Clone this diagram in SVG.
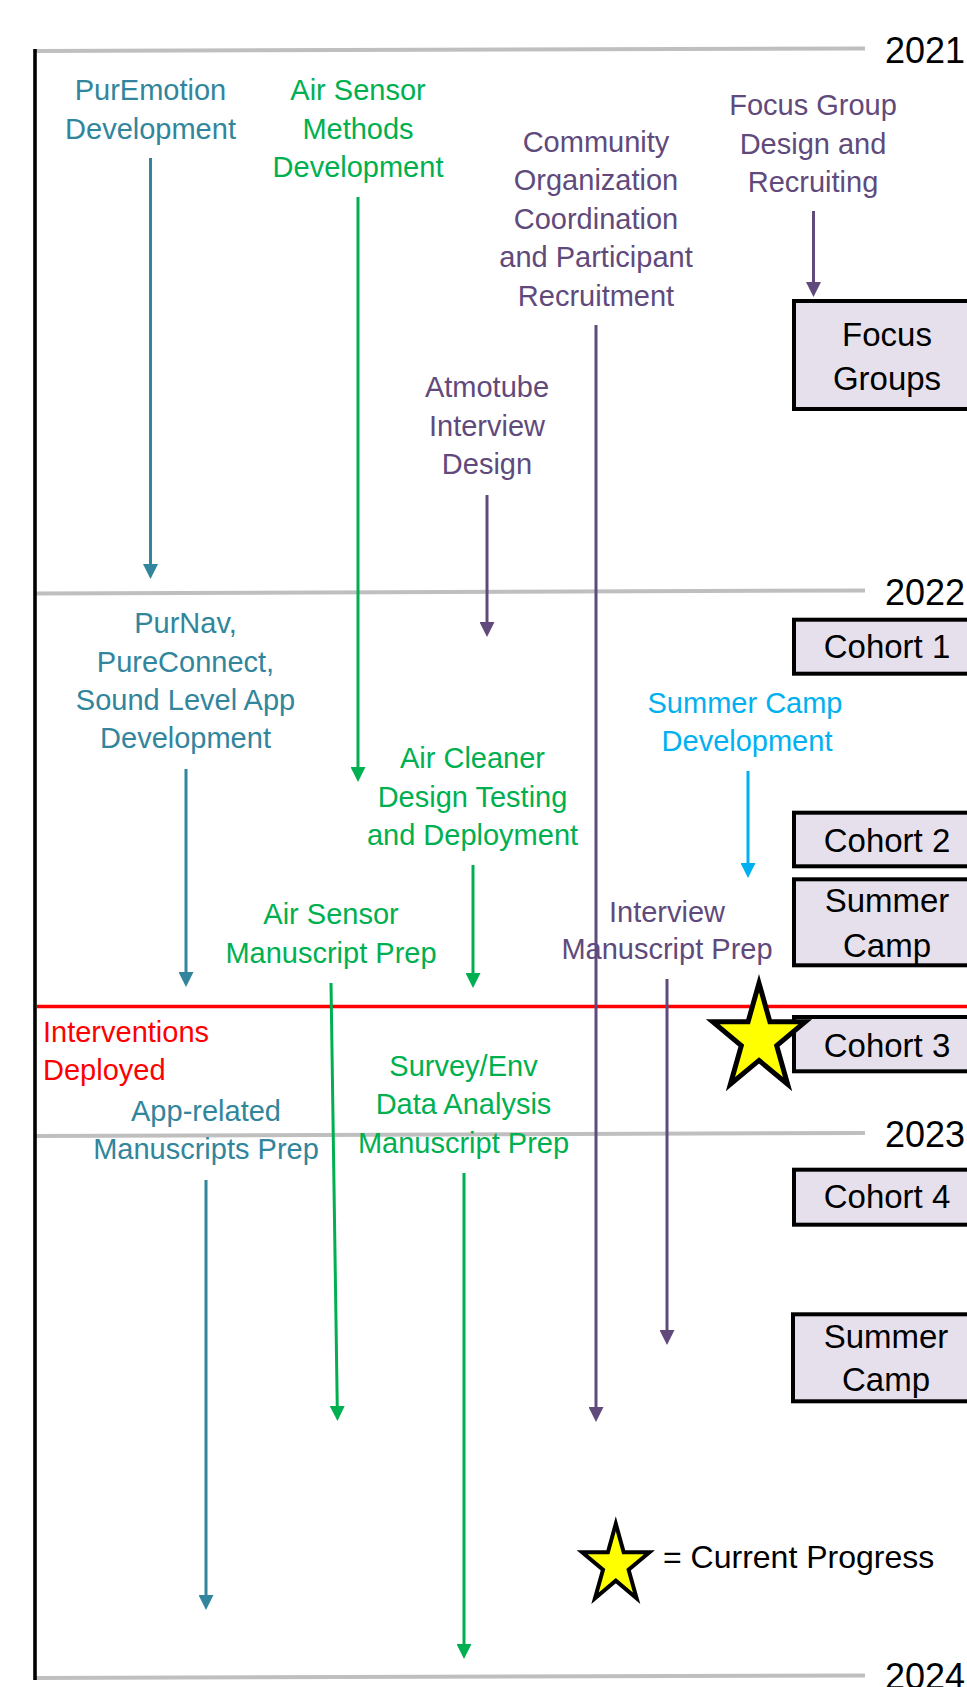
<svg xmlns="http://www.w3.org/2000/svg" width="967" height="1687" viewBox="0 0 967 1687">
<style>
text{font-family:"Liberation Sans",Arial,sans-serif;}
.lbl{font-size:29px;text-anchor:middle;}
.teal{fill:#31859C;}
.green{fill:#00B050;}
.purple{fill:#604A7B;}
.lblue{fill:#00B0F0;}
.red{fill:#FF0000;}
.year{font-size:36px;fill:#000;}
.box rect{fill:#E6E0EC;stroke:#000;stroke-width:4;}
.box text{font-size:33px;fill:#000;text-anchor:middle;}
.grid{stroke:#BFBFBF;stroke-width:4;fill:none;}
.c{fill:none;stroke-width:3;}
.ct{stroke:#31859C;marker-end:url(#ah-teal);}
.cg{stroke:#00B050;marker-end:url(#ah-green);}
.cp{stroke:#604A7B;marker-end:url(#ah-purple);}
.cb{stroke:#00B0F0;marker-end:url(#ah-lblue);}
.star{fill:#FFFF00;stroke:#000;stroke-linejoin:miter;}
</style>
<defs>
<marker id="ah-teal" markerUnits="userSpaceOnUse" viewBox="0 0 15 15" markerWidth="15" markerHeight="15" refX="10" refY="7.5" orient="auto"><path d="M0,0 L15,7.5 L0,15 z" fill="#31859C"/></marker>
<marker id="ah-green" markerUnits="userSpaceOnUse" viewBox="0 0 15 15" markerWidth="15" markerHeight="15" refX="10" refY="7.5" orient="auto"><path d="M0,0 L15,7.5 L0,15 z" fill="#00B050"/></marker>
<marker id="ah-purple" markerUnits="userSpaceOnUse" viewBox="0 0 15 15" markerWidth="15" markerHeight="15" refX="10" refY="7.5" orient="auto"><path d="M0,0 L15,7.5 L0,15 z" fill="#604A7B"/></marker>
<marker id="ah-lblue" markerUnits="userSpaceOnUse" viewBox="0 0 15 15" markerWidth="15" markerHeight="15" refX="10" refY="7.5" orient="auto"><path d="M0,0 L15,7.5 L0,15 z" fill="#00B0F0"/></marker>
</defs>
<rect width="967" height="1687" fill="#fff"/>

<g id="timeline">
<line class="grid" x1="35" y1="51" x2="865" y2="48.5"/>
<line class="grid" x1="35" y1="593.5" x2="865" y2="590.5"/>
<line class="grid" x1="35" y1="1136" x2="865" y2="1133"/>
<line class="grid" x1="35" y1="1678" x2="865" y2="1675.5"/>
<line x1="37" y1="1006.5" x2="967" y2="1006.5" stroke="#FF0000" stroke-width="3.3"/>
<line x1="35" y1="49" x2="35" y2="1680" stroke="#000" stroke-width="3.6"/>
<text class="year" x="885" y="63">2021</text>
<text class="year" x="885" y="605">2022</text>
<text class="year" x="885" y="1147">2023</text>
<text class="year" x="885" y="1689">2024</text>
</g>

<g id="connectors">
<line class="c ct" x1="150.5" y1="158" x2="150.5" y2="574"/>
<line class="c cg" x1="358" y1="197" x2="358" y2="777"/>
<line class="c cp" x1="596" y1="325" x2="596" y2="1417"/>
<line class="c cp" x1="813.5" y1="211" x2="813.5" y2="292"/>
<line class="c cp" x1="487" y1="495" x2="487" y2="632"/>
<line class="c ct" x1="186" y1="769" x2="186" y2="982"/>
<line class="c cg" x1="473" y1="865" x2="473" y2="983"/>
<line class="c cb" x1="748" y1="771" x2="748" y2="873"/>
<line class="c cg" x1="331" y1="983" x2="337.4" y2="1416"/>
<line class="c cp" x1="667" y1="979" x2="667" y2="1340"/>
<line class="c ct" x1="206" y1="1180" x2="206" y2="1605"/>
<line class="c cg" x1="464" y1="1173" x2="464" y2="1654"/>
</g>

<g id="focus-groups" class="box"><rect x="794" y="301" width="190" height="108"/><text x="887" y="345.7">Focus</text><text x="887" y="390">Groups</text></g>
<g id="cohort1" class="box"><rect x="794" y="619.7" width="190" height="54"/><text x="887" y="658.3">Cohort 1</text></g>
<g id="cohort2" class="box"><rect x="794" y="812.7" width="190" height="53.6"/><text x="887" y="851.7">Cohort 2</text></g>
<g id="summer-camp1" class="box"><rect x="794" y="879.3" width="190" height="86"/><text x="887" y="912.3">Summer</text><text x="887" y="956.7">Camp</text></g>
<g id="cohort3" class="box"><rect x="794" y="1017" width="190" height="54.3"/><text x="887" y="1056.7">Cohort 3</text></g>
<g id="cohort4" class="box"><rect x="794" y="1169.7" width="190" height="55"/><text x="887" y="1208.3">Cohort 4</text></g>
<g id="summer-camp2" class="box"><rect x="793" y="1314.3" width="190" height="87"/><text x="886" y="1347.7">Summer</text><text x="886" y="1390.7">Camp</text></g>

<g id="puremotion" class="lbl teal"><text x="150.5" y="100">PurEmotion</text><text x="150.5" y="138.5">Development</text></g>
<g id="air-sensor-methods" class="lbl green"><text x="358" y="100">Air Sensor</text><text x="358" y="138.5">Methods</text><text x="358" y="177">Development</text></g>
<g id="community" class="lbl purple"><text x="596" y="151.5">Community</text><text x="596" y="190">Organization</text><text x="596" y="228.6">Coordination</text><text x="596" y="267.2">and Participant</text><text x="596" y="305.8">Recruitment</text></g>
<g id="focus-group-design" class="lbl purple"><text x="813" y="115">Focus Group</text><text x="813" y="153.5">Design and</text><text x="813" y="192">Recruiting</text></g>
<g id="atmotube" class="lbl purple"><text x="487" y="397.3">Atmotube</text><text x="487" y="436">Interview</text><text x="487" y="474">Design</text></g>
<g id="purnav" class="lbl teal"><text x="185.5" y="633.3">PurNav,</text><text x="185.5" y="671.7">PureConnect,</text><text x="185.5" y="710">Sound Level App</text><text x="185.5" y="748.3">Development</text></g>
<g id="air-cleaner" class="lbl green"><text x="472.5" y="768.3">Air Cleaner</text><text x="472.5" y="806.7">Design Testing</text><text x="472.5" y="845">and Deployment</text></g>
<g id="summer-camp-dev" class="lbl lblue"><text x="745" y="712.7">Summer Camp</text><text x="747" y="751">Development</text></g>
<g id="air-sensor-ms" class="lbl green"><text x="331" y="924.3">Air Sensor</text><text x="331" y="962.7">Manuscript Prep</text></g>
<g id="interview-ms" class="lbl purple"><text x="667" y="921.7">Interview</text><text x="667" y="959">Manuscript Prep</text></g>
<g id="interventions" class="red" font-size="29"><text x="43" y="1041.7">Interventions</text><text x="43" y="1080">Deployed</text></g>
<g id="app-ms" class="lbl teal"><text x="206" y="1120.7">App-related</text><text x="206" y="1159.3">Manuscripts Prep</text></g>
<g id="survey-ms" class="lbl green"><text x="463.5" y="1076">Survey/Env</text><text x="463.5" y="1114.3">Data Analysis</text><text x="463.5" y="1152.7">Manuscript Prep</text></g>

<g id="progress-star"><polygon class="star" stroke-width="5" points="759,983.1 769.9,1021.7 805.3,1021.7 776.7,1045.6 787.6,1084.2 759,1060.4 730.4,1084.2 741.3,1045.6 712.7,1021.7 748.1,1021.7"/></g>

<g id="legend"><polygon class="star" stroke-width="4" points="615.8,1523.8 623.7,1552.2 649.5,1552.2 628.6,1569.8 636.6,1598.2 615.8,1580.6 595,1598.2 603,1569.8 582.1,1552.2 607.9,1552.2"/><text x="663" y="1568.3" font-size="32" fill="#000">= Current Progress</text></g>
</svg>
